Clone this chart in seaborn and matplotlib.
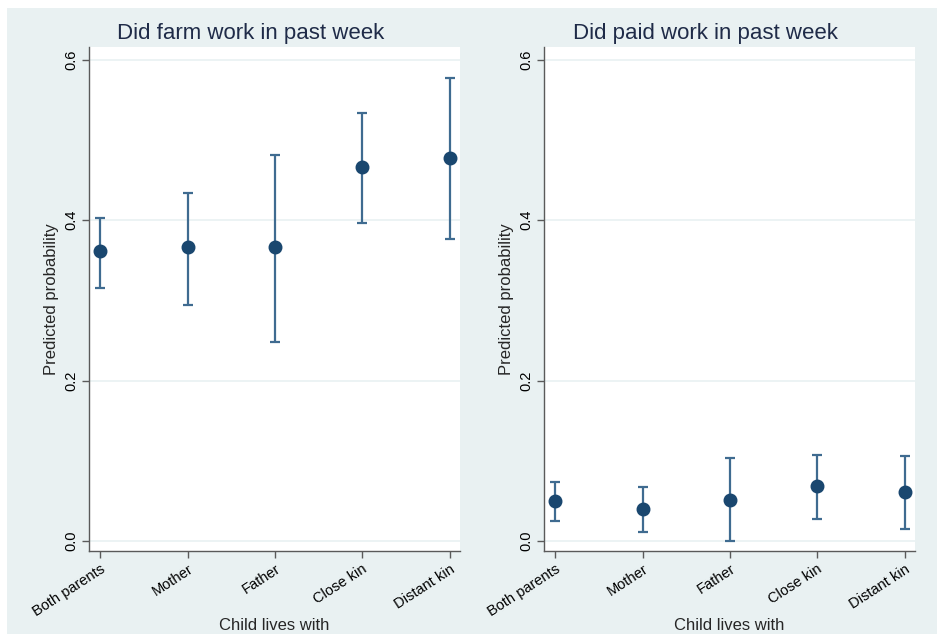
import numpy as np
import pandas as pd
import matplotlib
matplotlib.use("Agg")
import matplotlib.pyplot as plt
from matplotlib.patches import Rectangle
import seaborn as sns

# Living arrangement categories
categories = ["Both parents", "Mother", "Father", "Close kin", "Distant kin"]

# Did farm work in past week: predicted probability with 95% CI
farm_est = [0.361, 0.366, 0.366, 0.466, 0.478]
farm_lo = [0.316, 0.294, 0.248, 0.396, 0.377]
farm_hi = [0.403, 0.434, 0.481, 0.534, 0.577]

# Did paid work in past week: predicted probability with 95% CI
paid_est = [0.050, 0.040, 0.0515, 0.069, 0.061]
paid_lo = [0.025, 0.011, 0.000, 0.027, 0.015]
paid_hi = [0.073, 0.067, 0.103, 0.107, 0.106]

y_ticks = [0.0, 0.2, 0.4, 0.6]
titles = ["Did farm work in past week", "Did paid work in past week"]

sns.set_theme(style="white")
plt.rcParams["font.family"] = ["Liberation Sans", "DejaVu Sans"]

BG = "#e9f1f2"
NAVY = "#1a476f"
BAR = "#3f6b90"
TITLE = "#1f2b48"
SPINE = "#5a5a5a"

fig = plt.figure(figsize=(9.41, 6.34), dpi=100, facecolor="white")
fig.patches.append(Rectangle((7 / 941, 0), 930 / 941, (634 - 8) / 634,
                             transform=fig.transFigure, facecolor=BG,
                             edgecolor="none", zorder=-10))

panels = [
    (farm_est, farm_lo, farm_hi, [89 / 941, 83 / 634, 371 / 941, 504 / 634]),
    (paid_est, paid_lo, paid_hi, [544 / 941, 83 / 634, 371 / 941, 504 / 634]),
]

for (est, lo, hi, rect), title in zip(panels, titles):
    ax = fig.add_axes(rect)
    ax.set_facecolor("white")
    df = pd.DataFrame({"Child lives with": categories, "Predicted probability": est})
    est_a = np.array(est)
    yerr = [est_a - np.array(lo), np.array(hi) - est_a]
    ax.errorbar(np.arange(len(categories)), est_a, yerr=yerr, fmt="none",
                ecolor=BAR, elinewidth=1.6, capsize=3.5, capthick=1.6, zorder=3)
    sns.pointplot(data=df, x="Child lives with", y="Predicted probability",
                  order=categories, linestyle="none", markers="o",
                  color=NAVY, errorbar=None, markersize=8, ax=ax, zorder=4)
    ax.set_xlim(-0.13, 4.12)
    ax.set_ylim(-0.0125, 0.616)
    ax.set_yticks(y_ticks)
    ax.set_yticklabels([f"{v:.1f}" for v in y_ticks], rotation=90, va="center",
                       fontsize=10.5)
    ax.set_xticks(range(len(categories)))
    ax.set_xticklabels(categories, rotation=33, ha="right",
                       rotation_mode="anchor", fontsize=10.5)
    for y in y_ticks:
        ax.axhline(y, color=BG, lw=1.2, zorder=1)
    for s in ["top", "right"]:
        ax.spines[s].set_visible(False)
    for s in ["left", "bottom"]:
        ax.spines[s].set_color(SPINE)
        ax.spines[s].set_linewidth(1.0)
    ax.tick_params(axis="both", direction="out", length=5, width=1.0,
                   color=SPINE, labelcolor="black", bottom=True, left=True,
                   pad=3)
    ax.set_xlabel("Child lives with", fontsize=12, va="center")
    ax.xaxis.set_label_coords(0.5, -0.147)
    ax.set_ylabel("Predicted probability", fontsize=12, va="center")
    ax.yaxis.set_label_coords(-0.1, 0.5)
    ax.set_title(title, fontsize=16, color=TITLE, pad=6, x=0.435)

fig.savefig("out.png", dpi=100, facecolor="white")
